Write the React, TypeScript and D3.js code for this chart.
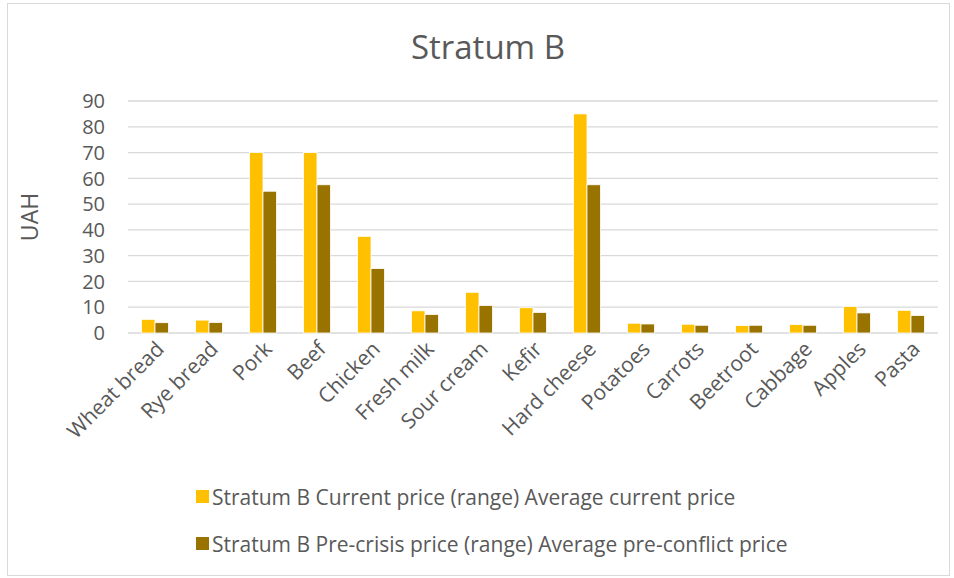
import { useEffect, useRef } from 'react'
import * as d3 from 'd3'

const categories = ['Wheat bread', 'Rye bread', 'Pork', 'Beef', 'Chicken', 'Fresh milk', 'Sour cream', 'Kefir', 'Hard cheese', 'Potatoes', 'Carrots', 'Beetroot', 'Cabbage', 'Apples', 'Pasta']
const currentPrice = [5.3, 5.0, 70, 70, 37.5, 8.6, 15.8, 9.8, 85, 3.8, 3.4, 2.9, 3.3, 10.3, 8.8]
const preConflictPrice = [4.0, 4.1, 55, 57.5, 25, 7.2, 10.7, 8.0, 57.5, 3.5, 3.0, 3.0, 3.0, 7.8, 6.8]
const seriesNames = ['Stratum B Current price (range) Average current price', 'Stratum B Pre-crisis price (range) Average pre-conflict price']
const colors = ['#FFC000', '#997300']
const yTicks = [0, 10, 20, 30, 40, 50, 60, 70, 80, 90]

const FONT = '"Open Sans", sans-serif'

export default function App() {
  const svgRef = useRef<SVGSVGElement>(null)

  useEffect(() => {
    if (!svgRef.current) return
    const svg = d3.select(svgRef.current)
    svg.selectAll('*').remove()

    const W = 954, H = 578
    const plot = { left: 128, right: 938, top: 101, bottom: 333 }

    svg.append('rect').attr('x', 0).attr('y', 0).attr('width', W).attr('height', H).attr('fill', '#fff')
    svg.append('rect').attr('x', 7.5).attr('y', 3.5).attr('width', 942).attr('height', 572)
      .attr('fill', 'none').attr('stroke', '#d9d9d9')

    const x = d3.scaleBand<string>().domain(categories).range([plot.left, plot.right]).paddingInner(0).paddingOuter(0)
    const bw = x.bandwidth() / 4
    const y = d3.scaleLinear().domain([0, 90]).range([plot.bottom, plot.top])

    // gridlines
    svg.append('g').selectAll('line').data(yTicks).enter().append('line')
      .attr('x1', plot.left).attr('x2', plot.right)
      .attr('y1', d => y(d)).attr('y2', d => y(d))
      .attr('stroke', '#d9d9d9').attr('stroke-width', 1.3)

    // y tick labels
    svg.append('g').selectAll('text').data(yTicks).enter().append('text')
      .attr('x', 105).attr('y', d => y(d)).attr('dy', '0.36em').attr('text-anchor', 'end')
      .style('font-family', FONT).style('font-size', '20px').style('fill', '#595959')
      .text(d => d)

    // bars
    const series = [currentPrice, preConflictPrice]
    series.forEach((vals, si) => {
      svg.append('g').selectAll('rect').data(vals).enter().append('rect')
        .attr('x', (_, i) => (x(categories[i]) as number) + bw + si * bw)
        .attr('y', d => y(d))
        .attr('width', bw)
        .attr('height', d => y(0) - y(d))
        .attr('fill', colors[si])
        .attr('stroke', '#fff').attr('stroke-width', 0.8)
    })

    // x labels
    svg.append('g').selectAll('text').data(categories).enter().append('text')
      .attr('transform', d => `translate(${(x(d) as number) + x.bandwidth() / 2 + 5},${plot.bottom + 12}) rotate(-45)`)
      .attr('text-anchor', 'end').attr('dy', '0.36em')
      .style('font-family', FONT).style('font-size', '21px').style('fill', '#595959')
      .text(d => d)

    // axis title
    svg.append('text').attr('transform', `translate(38,${(plot.top + plot.bottom) / 2}) rotate(-90)`)
      .attr('text-anchor', 'middle')
      .style('font-family', FONT).style('font-size', '23px').style('fill', '#595959')
      .text('UAH')

    // chart title
    svg.append('text').attr('x', 488).attr('y', 59).attr('text-anchor', 'middle')
      .style('font-family', FONT).style('font-size', '33px').style('fill', '#595959')
      .text('Stratum B')

    // legend
    const legendY = [497, 544]
    seriesNames.forEach((name, i) => {
      const row = svg.append('g').attr('transform', `translate(196,${legendY[i]})`)
      row.append('rect').attr('x', 0).attr('y', -7).attr('width', 13).attr('height', 13).attr('fill', colors[i])
      row.append('text').attr('x', 16).attr('y', 0).attr('dy', '0.36em')
        .style('font-family', FONT).style('font-size', '21px').style('fill', '#595959')
        .text(name)
    })
  }, [])

  return (
    <svg ref={svgRef} width={954} height={578} style={{ position: 'absolute', left: 0, top: 0 }} />
  )
}
